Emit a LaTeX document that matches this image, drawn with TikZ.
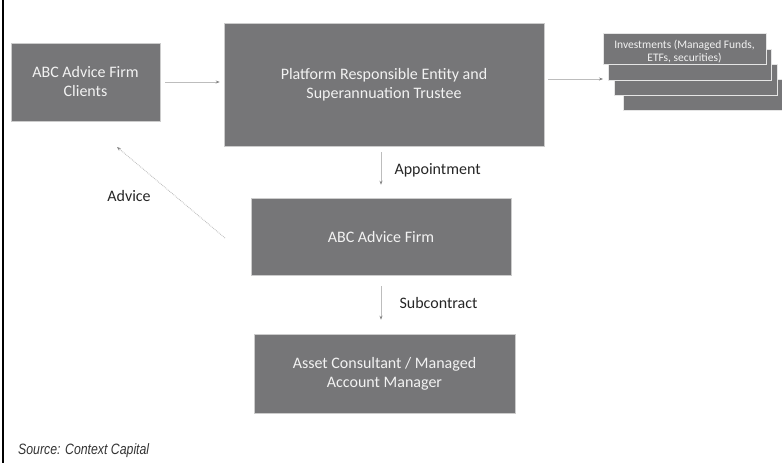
\documentclass[tikz,border=0pt]{standalone}
\usepackage{fontspec}
\usepackage{tikz}
\usetikzlibrary{arrows.meta}
\setmainfont{Carlito}
\newfontfamily\sourcefont[FakeStretch=0.82]{Liberation Sans}
\definecolor{boxgray}{HTML}{767678}
\definecolor{boxtext}{HTML}{F2F2F2}
\definecolor{linegray}{HTML}{BDBDBD}

\begin{document}
\begin{tikzpicture}[x=1pt, y=-1pt,
        entity/.style = {fill=boxgray, draw=white!80!black, line width=0.6pt,
            text=boxtext, align=center, inner sep=0pt,
            font=\fontsize{16}{19}\selectfont},
        layer/.style = {fill=boxgray, draw=white!90!black, line width=0.8pt,
            minimum width=163pt, minimum height=31pt, inner sep=0pt},
        link/.style = {draw=linegray, line width=0.8pt,
            -{Stealth[length=4pt,width=3pt,color=gray,fill=gray]}},
        linklabel/.style = {text=black!85, font=\fontsize{16}{19}\selectfont}]
        \path [use as bounding box, clip] (0,0) rectangle (782,463);
        \draw [line width=1.1pt] (3,0) -- (3,463);

        \node [entity, minimum width=149pt, minimum height=78pt] (clients) at (85.5,82) {ABC Advice Firm\\Clients};
        \node [entity, minimum width=320pt, minimum height=123pt] (platform) at (384,84.5) {Platform Responsible Entity and\\Superannuation Trustee};
        \node [entity, minimum width=260pt, minimum height=77pt] (firm) at (381,236.5) {ABC Advice Firm};
        \node [entity, minimum width=261pt, minimum height=79pt] (asset) at (384.5,373.5) {Asset Consultant / Managed\\Account Manager};

        \node [layer] (inv4) at (704.5,95) {};
        \node [layer] (inv3) at (695.5,80) {};
        \node [layer] (inv2) at (689.5,65) {};
        \node [layer, text=boxtext, align=center, font=\fontsize{11.5}{13}\selectfont] (inv1) at (684.5,49) {\rule{0pt}{14pt}Investments (Managed Funds,\\ETFs, securities)};
        \coordinate (inv-in) at (603,79);

        \draw [link, shorten <=5pt, shorten >=4pt] (clients.east) -- (clients.east -| platform.west);
        \draw [link, shorten <=4pt] (platform.east |- inv-in) -- (inv-in);
        \draw [link, shorten <=6pt, shorten >=13pt] (firm.north |- platform.south) -- (firm.north);
        \draw [link, shorten <=11pt, shorten >=14pt] (firm.south) -- (firm.south |- asset.north);

        \coordinate (advice-from) at (225,238);
        \coordinate (advice-to) at (117,147);
        \draw [link, densely dotted, line width=0.9pt] (advice-from) -- (advice-to);

        \node [linklabel, anchor=west] (appoint) at (391,170) {Appointment};
        \node [linklabel, anchor=west] (subcon) at (396,303) {Subcontract};
        \node [linklabel] (advice) at (129,196) {Advice};

        \node [anchor=base west, inner sep=0pt, text=black!80, font=\sourcefont\itshape\fontsize{15}{17}\selectfont] (source) at (18,454) {Source: Context Capital};
\end{tikzpicture}
\end{document}
